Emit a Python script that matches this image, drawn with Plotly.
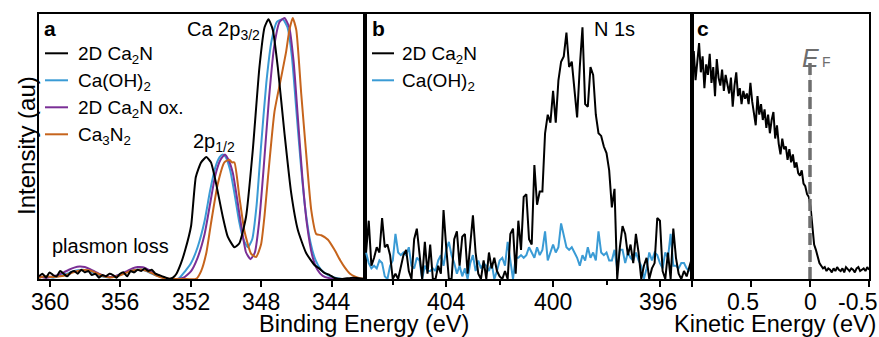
import numpy as np
import plotly.graph_objects as go

# ---------------- DATA ----------------
# Panel a: Ca 2p XPS (binding energy, eV ; normalised intensity)
be_black = [360.6, 360.4, 360.2, 360.0, 359.8, 359.6, 359.4, 359.2, 359.0, 358.8,
            358.6, 358.4, 358.2, 358.0, 357.8, 357.6, 357.4, 357.2, 357.0, 356.8,
            356.6, 356.4, 356.2, 356.0, 355.8, 355.6, 355.4, 355.2, 355.0, 354.8,
            354.6, 354.4, 354.2, 354.0, 353.8, 353.6, 353.4, 353.2, 353.0, 352.8,
            352.54, 352.3, 351.97, 351.7, 351.4, 351.1, 350.84, 350.55, 350.17, 349.89,
            349.51, 349.23, 348.85, 348.47, 348.09, 347.8, 347.58, 347.33, 347.05, 346.67,
            346.29, 345.91, 345.44, 344.97, 344.7, 344.4, 344.1, 343.83, 343.4, 342.8, 342.1]
int_black = [0.01, 0.02, 0.005, 0.025, 0.015, 0.01, 0.03, 0.02, 0.01, 0.025,
             0.03, 0.02, 0.035, 0.025, 0.03, 0.015, 0.02, 0.005, 0.015, 0.01,
             0.02, 0.015, 0.005, 0.02, 0.025, 0.01, 0.03, 0.025, 0.035, 0.03,
             0.04, 0.03, 0.035, 0.02, 0.015, 0.01, 0.005, 0.0, 0.005, 0.02,
             0.06, 0.11, 0.20, 0.385, 0.44, 0.46, 0.44, 0.36, 0.235, 0.16,
             0.12, 0.135, 0.235, 0.485, 0.80, 0.95, 0.98, 0.94, 0.80, 0.55,
             0.325, 0.185, 0.098, 0.053, 0.04, 0.023, 0.015, 0.004, 0.0, 0.005, 0.0]

be_blue = [360.6, 360.2, 359.8, 359.4, 359.0, 358.7, 358.4, 358.1, 357.8, 357.5,
           357.2, 356.9, 356.6, 356.3, 356.0, 355.7, 355.4, 355.1, 354.8, 354.5,
           354.2, 353.9, 353.6, 353.3, 353.0, 352.7, 352.3, 351.97, 351.6, 351.2,
           350.9, 350.6, 350.35, 350.17, 350.0, 349.75, 349.5, 349.25, 349.0, 348.75,
           348.5, 348.25, 348.0, 347.7, 347.4, 347.1, 346.76, 346.5, 346.25, 346.0,
           345.75, 345.5, 345.2, 344.9, 344.6, 344.2, 343.8, 343.4, 342.8, 342.1]
int_blue = [0.005, 0.01, 0.005, 0.012, 0.02, 0.028, 0.033, 0.035, 0.03, 0.022,
            0.014, 0.008, 0.006, 0.01, 0.016, 0.024, 0.031, 0.035, 0.036, 0.03,
            0.02, 0.012, 0.006, 0.002, 0.0, 0.0, 0.03, 0.06, 0.12, 0.22,
            0.33, 0.42, 0.46, 0.47, 0.46, 0.41, 0.32, 0.22, 0.15, 0.12,
            0.15, 0.28, 0.5, 0.74, 0.9, 0.97, 0.98, 0.95, 0.84, 0.64,
            0.44, 0.27, 0.14, 0.07, 0.035, 0.015, 0.005, 0.0, 0.0, 0.0]

be_purple = [360.6, 360.2, 359.8, 359.5, 359.2, 358.9, 358.6, 358.3, 358.0, 357.7,
             357.4, 357.1, 356.8, 356.5, 356.2, 355.9, 355.6, 355.3, 355.0, 354.7,
             354.4, 354.1, 353.8, 353.5, 353.2, 352.8, 352.4, 351.97, 351.6, 351.2,
             350.9, 350.6, 350.3, 350.05, 349.85, 349.6, 349.35, 349.1, 348.85, 348.6,
             348.35, 348.1, 347.85, 347.55, 347.25, 346.95, 346.67, 346.4, 346.15, 345.9,
             345.65, 345.4, 345.1, 344.8, 344.5, 344.1, 343.6, 342.8, 342.1]
int_purple = [0.01, 0.005, 0.01, 0.015, 0.025, 0.035, 0.043, 0.047, 0.045, 0.037,
              0.027, 0.017, 0.01, 0.008, 0.012, 0.02, 0.03, 0.04, 0.045, 0.044,
              0.035, 0.022, 0.012, 0.005, 0.0, 0.0, 0.005, 0.03, 0.08, 0.17,
              0.28, 0.39, 0.45, 0.47, 0.45, 0.40, 0.30, 0.19, 0.10, 0.075,
              0.10, 0.22, 0.42, 0.68, 0.88, 0.97, 0.985, 0.95, 0.82, 0.6,
              0.38, 0.21, 0.09, 0.035, 0.012, 0.003, 0.0, 0.0, 0.0]

be_orange = [360.6, 360.2, 359.8, 359.4, 359.0, 358.7, 358.4, 358.1, 357.8, 357.5,
             357.2, 356.9, 356.6, 356.3, 356.0, 355.7, 355.4, 355.1, 354.8, 354.5,
             354.2, 353.9, 353.6, 353.3, 352.9, 352.4, 351.69, 351.4, 351.1, 350.84,
             350.45, 350.08, 349.8, 349.65, 349.51, 349.23, 348.94, 348.56, 348.28, 348.0,
             347.8, 347.61, 347.24, 346.86, 346.57, 346.39, 346.2, 346.0, 345.72, 345.44,
             345.15, 344.87, 344.58, 344.2, 343.83, 343.5, 343.26, 342.95, 342.69, 342.4, 342.1]
int_orange = [0.005, 0.01, 0.008, 0.01, 0.016, 0.024, 0.03, 0.034, 0.033, 0.027,
              0.018, 0.01, 0.006, 0.008, 0.014, 0.022, 0.03, 0.034, 0.036, 0.031,
              0.022, 0.012, 0.005, 0.002, 0.0, 0.0, 0.0, 0.03, 0.1, 0.21,
              0.36, 0.44, 0.45, 0.44, 0.44, 0.31, 0.18, 0.095, 0.083, 0.13,
              0.24, 0.38, 0.63, 0.76, 0.86, 0.94, 0.985, 0.94, 0.70, 0.475,
              0.26, 0.17, 0.165, 0.148, 0.11, 0.07, 0.045, 0.02, 0.01, 0.003, 0.0]

# Panel b: N 1s XPS, sampled every 0.1 eV from 407.0 eV downwards
n1s_start, n1s_step = 407.0, 0.1
n1s_ca2n = [0.10, 0.22, 0.05, 0.08, 0.12, 0.10, 0.23, 0.12, 0.13, 0.09,
            0.0, 0.02, 0.0, 0.05, 0.09, 0.11, 0.03, 0.0, 0.15, 0.19,
            0.08, 0.0, 0.14, 0.02, 0.13, 0.0, 0.0, 0.05, 0.02, 0.26,
            0.12, 0.0, 0.0, 0.15, 0.18, 0.05, 0.16, 0.17, 0.02, 0.12,
            0.24, 0.10, 0.02, 0.0, 0.07, 0.0, 0.10, 0.04, 0.08, 0.03,
            0.01, 0.0, 0.03, 0.0, 0.17, 0.19, 0.02, 0.22, 0.11, 0.31,
            0.32, 0.15, 0.13, 0.43, 0.28, 0.33, 0.33, 0.55, 0.62, 0.59,
            0.71, 0.59, 0.75, 0.82, 0.84, 0.93, 0.80, 0.82, 0.72, 0.61,
            0.80, 0.95, 0.66, 0.65, 0.80, 0.77, 0.62, 0.55, 0.54, 0.50,
            0.475, 0.41, 0.27, 0.34, 0.0, 0.12, 0.20, 0.17, 0.09, 0.13,
            0.06, 0.17, 0.10, 0.0, 0.05, 0.08, 0.0, 0.04, 0.06, 0.23,
            0.22, 0.03, 0.0, 0.10, 0.0, 0.19, 0.08, 0.02, 0.0, 0.03,
            0.01, 0.05, 0.08]
n1s_caoh = [0.10, 0.06, 0.04, 0.05, 0.04, 0.07, 0.06, 0.01, 0.0, 0.05,
            0.07, 0.17, 0.10, 0.09, 0.10, 0.09, 0.12, 0.05, 0.04, 0.08,
            0.07, 0.0, 0.05, 0.03, 0.03, 0.04, 0.03, 0.07, 0.09, 0.05,
            0.11, 0.14, 0.09, 0.06, 0.02, 0.05, 0.01, 0.04, 0.0, 0.06,
            0.09, 0.03, 0.07, 0.04, 0.06, 0.05, 0.03, 0.06, 0.0, 0.03,
            0.07, 0.08, 0.05, 0.14, 0.07, 0.0, 0.08, 0.08, 0.09, 0.08,
            0.09, 0.12, 0.10, 0.08, 0.12, 0.09, 0.11, 0.18, 0.07, 0.10,
            0.13, 0.10, 0.12, 0.21, 0.16, 0.12, 0.11, 0.12, 0.10, 0.08,
            0.05, 0.09, 0.07, 0.12, 0.08, 0.10, 0.07, 0.18, 0.10, 0.09,
            0.10, 0.07, 0.07, 0.11, 0.04, 0.11, 0.11, 0.06, 0.10, 0.08,
            0.07, 0.10, 0.07, 0.05, 0.0, 0.04, 0.10, 0.07, 0.10, 0.09,
            0.06, 0.04, 0.10, 0.08, 0.17, 0.05, 0.05, 0.04, 0.06, 0.06,
            0.04, 0.03, 0.07]

# Panel c: valence band near E_F, sampled every 0.015 eV from 1.0 eV downwards
vb_start, vb_step = 1.0, 0.015
vb_int = [0.80, 0.86, 0.75, 0.82, 0.89, 0.78, 0.84, 0.72, 0.81, 0.77,
          0.85, 0.74, 0.80, 0.69, 0.83, 0.76, 0.73, 0.79, 0.71, 0.77,
          0.74, 0.70, 0.76, 0.65, 0.73, 0.78, 0.69, 0.72, 0.66, 0.71,
          0.68, 0.70, 0.66, 0.74, 0.67, 0.63, 0.58, 0.69, 0.62, 0.66,
          0.60, 0.64, 0.57, 0.62, 0.55, 0.60, 0.63, 0.53, 0.58, 0.51,
          0.47, 0.53, 0.49, 0.50, 0.45, 0.49, 0.44, 0.47, 0.42, 0.44,
          0.40, 0.39, 0.41, 0.36, 0.35, 0.32, 0.31, 0.27, 0.20, 0.13,
          0.11, 0.08, 0.06, 0.05, 0.04, 0.045, 0.03, 0.04, 0.035, 0.025,
          0.04, 0.03, 0.045, 0.035, 0.03, 0.04, 0.025, 0.045, 0.035, 0.03,
          0.04, 0.035, 0.025, 0.04, 0.045, 0.03, 0.035, 0.04, 0.03, 0.045,
          0.035]
fermi_level = 0.0
fermi_line_top = 0.815

names_a = ["2D Ca<sub>2</sub>N", "Ca(OH)<sub>2</sub>", "2D Ca<sub>2</sub>N ox.", "Ca<sub>3</sub>N<sub>2</sub>"]
names_b = ["2D Ca<sub>2</sub>N", "Ca(OH)<sub>2</sub>"]
ticks_a = [360, 356, 352, 348, 344]
ticklabels_a = ["360", "356", "352", "348", "344"]
ticks_b = [404, 400, 396]
ticklabels_b = ["404", "400", "396"]
minor_ticks_b = [406, 402, 398]
ticks_c = [1.0, 0.5, 0.0, -0.5]
ticklabels_c = ["0.5", "0", "-0.5"]

# ---------------- STYLE ----------------
W, H = 879, 337
FONT = "Liberation Sans, Arial, Helvetica, sans-serif"
C_BLACK, C_BLUE, C_PURPLE, C_ORANGE = "#000000", "#3a9bd5", "#7a2f96", "#c6641c"
GRAY = "#6e6e6e"
TOP, BOT = 14, 279


def px(x):
    return x / W


def py(y):
    return (BOT - y) / (BOT - TOP)


be_n1s = np.round(n1s_start - n1s_step * np.arange(len(n1s_ca2n)), 3)
be_n1s_b = np.round(n1s_start - n1s_step * np.arange(len(n1s_caoh)), 3)
ke_vb = np.round(vb_start - vb_step * np.arange(len(vb_int)), 4)

fig = go.Figure()
spl = dict(shape="spline", smoothing=0.5)
series_a = [(be_blue, int_blue, names_a[1], C_BLUE),
            (be_purple, int_purple, names_a[2], C_PURPLE),
            (be_orange, int_orange, names_a[3], C_ORANGE),
            (be_black, int_black, names_a[0], C_BLACK)]  # black drawn on top
for xs, ys, nm, col in series_a:
    fig.add_trace(go.Scatter(x=xs, y=ys, name=nm, mode="lines", showlegend=False,
                             line=dict(color=col, width=2, **spl),
                             xaxis="x", yaxis="y"))

fig.add_trace(go.Scatter(x=be_n1s_b, y=n1s_caoh, name=names_b[1], mode="lines",
                         showlegend=False, line=dict(color=C_BLUE, width=2),
                         xaxis="x2", yaxis="y2"))
fig.add_trace(go.Scatter(x=be_n1s, y=n1s_ca2n, name=names_b[0], mode="lines",
                         showlegend=False, line=dict(color=C_BLACK, width=2),
                         xaxis="x2", yaxis="y2"))
fig.add_trace(go.Scatter(x=ke_vb, y=vb_int, mode="lines", showlegend=False,
                         line=dict(color=C_BLACK, width=2),
                         xaxis="x3", yaxis="y3"))

frame = dict(showline=True, linecolor="black", linewidth=2, mirror=True,
             showgrid=False, zeroline=False, automargin=False)
xcommon = dict(frame, ticks="outside", ticklen=6, tickwidth=1.5, tickcolor="black",
               showticklabels=False)
ycommon = dict(frame, range=[0, 1], showticklabels=False, ticks="")

fig.update_layout(
    width=W, height=H, autosize=False,
    margin=dict(l=0, r=0, t=TOP, b=H - BOT, pad=0, autoexpand=False),
    paper_bgcolor="white", plot_bgcolor="white",
    font=dict(family=FONT, color="black"),
    showlegend=False,
    xaxis=dict(xcommon, domain=[px(39), px(365)], range=[360.6, 342.1],
               tickvals=ticks_a, anchor="y"),
    yaxis=dict(ycommon, domain=[0, 1], anchor="x"),
    xaxis2=dict(xcommon, domain=[px(365), px(692)], range=[407.04, 394.8],
                tickvals=ticks_b, anchor="y2",
                minor=dict(tickvals=minor_ticks_b, ticks="outside", ticklen=4,
                           tickwidth=1.5, tickcolor="black")),
    yaxis2=dict(ycommon, domain=[0, 1], anchor="x2"),
    xaxis3=dict(xcommon, domain=[px(692), px(869)], range=[1.0, -0.5],
                tickvals=ticks_c, anchor="y3"),
    yaxis3=dict(ycommon, domain=[0, 1], anchor="x3"),
)

# Fermi level marker
fig.add_shape(type="line", xref="x3", yref="y3", x0=fermi_level, x1=fermi_level,
              y0=0, y1=fermi_line_top, line=dict(color="#d9d9d9", width=1))
fig.add_shape(type="line", xref="x3", yref="y3", x0=fermi_level, x1=fermi_level,
              y0=0, y1=fermi_line_top, line=dict(color=GRAY, width=3.5, dash="12px,5px"))

ann = []


def txt(t, x, y, size=20, xanchor="left", color="black", **kw):
    ann.append(dict(text=t, x=px(x), y=py(y), xref="paper", yref="paper",
                    xanchor=xanchor, yanchor="middle", showarrow=False,
                    font=dict(size=size, color=color, family=FONT), **kw))


# legends (line sample + label)
legend_a = [(names_a[0], C_BLACK), (names_a[1], C_BLUE), (names_a[2], C_PURPLE), (names_a[3], C_ORANGE)]
legend_b = [(names_b[0], C_BLACK), (names_b[1], C_BLUE)]
for (x_line0, x_line1, x_text, entries) in [(45, 68, 76, legend_a), (372, 394, 400, legend_b)]:
    for i, (nm, col) in enumerate(entries):
        yrow = 53.3 + 27 * i
        fig.add_shape(type="line", xref="paper", yref="paper",
                      x0=px(x_line0), x1=px(x_line1), y0=py(yrow), y1=py(yrow),
                      line=dict(color=col, width=2))
        txt(nm, x_text, yrow + 1.5, size=19)

txt("<b>a</b>", 42, 29, size=21)
txt("<b>b</b>", 370, 29, size=21)
txt("<b>c</b>", 695, 29, size=21)
txt("Ca 2p<sub>3/2</sub>", 185, 31, size=20)
txt("2p<sub>1/2</sub>", 191, 142, size=20)
txt("plasmon loss", 50, 246, size=20)
txt("N 1s", 592, 29, size=20)
txt("<i>E</i>", 800, 58, size=25, color=GRAY)
txt("F", 820, 62, size=14, color=GRAY)
txt("Intensity (au)", 26, 146, size=24, xanchor="center", textangle=-90)
txt("Binding Energy (eV)", 364, 324, size=23.5, xanchor="center")
txt("Kinetic Energy (eV)", 775, 324, size=23.5, xanchor="center")

# tick labels
for xref, vals, labs, shifts in [("x", ticks_a, ticklabels_a, [0] * 5),
                                 ("x2", ticks_b, ticklabels_b, [0, 0, -2]),
                                 ("x3", ticks_c[1:], ticklabels_c, [-8, 0, -11])]:
    for v, lab, sh in zip(vals, labs, shifts):
        ann.append(dict(text=lab, x=v, xref=xref, y=py(302), yref="paper",
                        xanchor="center", yanchor="middle", xshift=sh, showarrow=False,
                        font=dict(size=23, color="black", family=FONT)))

fig.update_layout(annotations=ann)
fig.write_html("out.html", config={"displayModeBar": False, "responsive": False},
               post_script="document.body.style.margin='0px';document.body.style.padding='0px';"
                           "document.documentElement.style.overflow='hidden';")
